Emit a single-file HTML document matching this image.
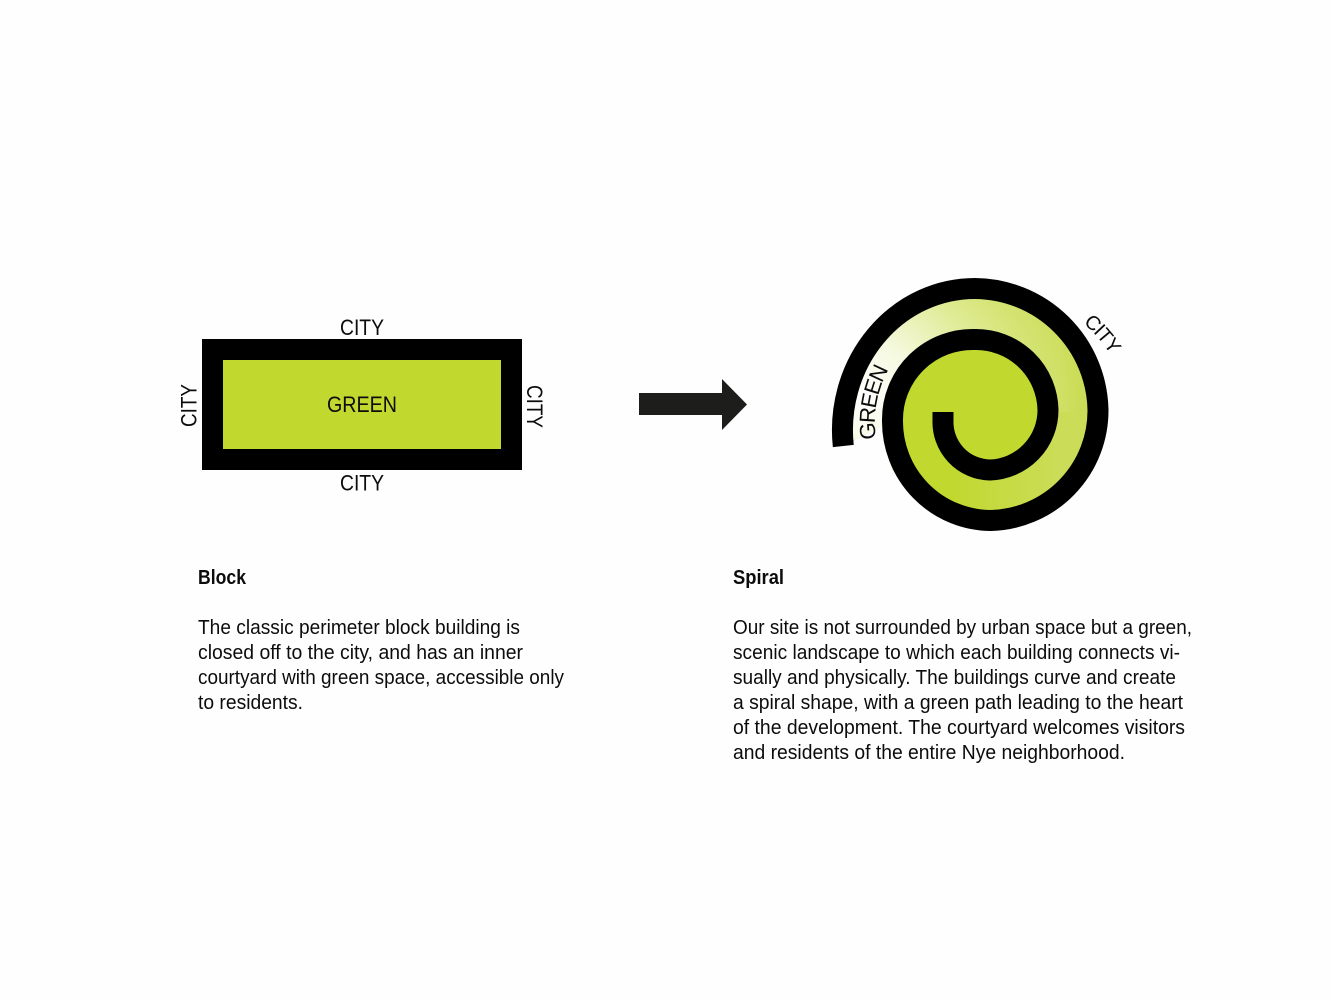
<!DOCTYPE html>
<html><head><meta charset="utf-8"><title>Block to Spiral</title>
<style>html,body{margin:0;padding:0;background:#fefefe}svg{display:block}
text{font-family:"Liberation Sans",sans-serif;fill:#0c0c0c}
.b{font-size:20px}.h{font-size:20px;font-weight:bold}.l{font-size:22px}</style></head>
<body>
<svg width="1333" height="1000" viewBox="0 0 1333 1000" xmlns="http://www.w3.org/2000/svg">
<defs>
<linearGradient id="base" gradientUnits="userSpaceOnUse" x1="950" y1="0" x2="1060" y2="0"><stop offset="0" stop-color="#c1d82f"/><stop offset="1" stop-color="#cbdd58"/></linearGradient>
<radialGradient id="glow" gradientUnits="userSpaceOnUse" cx="862" cy="395" r="215"><stop offset="0" stop-color="#fff" stop-opacity="1"/><stop offset=".25" stop-color="#fff" stop-opacity=".85"/><stop offset=".6" stop-color="#fff" stop-opacity=".45"/><stop offset="1" stop-color="#fff" stop-opacity="0"/></radialGradient>
<clipPath id="top"><rect x="820" y="270" width="300" height="170"/></clipPath>
<path id="pc" d="M1083,323 A140,140 0 0 1 1125,385"/>
<path id="pg" d="M876,439 A110,110 0 0 1 896,358"/>
</defs>
<rect width="1333" height="1000" fill="#fefefe"/>
<rect x="202" y="339" width="320" height="131" fill="#000"/>
<rect x="223" y="360" width="278" height="89" fill="#c1d82f"/>
<text class="l" x="340" y="335" textLength="44" lengthAdjust="spacingAndGlyphs">CITY</text>
<text class="l" x="340" y="490.500" textLength="44" lengthAdjust="spacingAndGlyphs">CITY</text>
<text class="l" x="327" y="412" textLength="70" lengthAdjust="spacingAndGlyphs">GREEN</text>
<text class="l" transform="translate(196.500,427) rotate(-90)" textLength="43" lengthAdjust="spacingAndGlyphs">CITY</text>
<text class="l" transform="translate(527,385) rotate(90)" textLength="43" lengthAdjust="spacingAndGlyphs">CITY</text>
<polygon points="639,393 722,393 722,379 747,404.500 722,430 722,415 639,415" fill="#1d1d1b"/>
<path d="M843.300,446 A132.500,141.500 0 0 1 975,288.500 A124,124 0 0 1 1098,410 A110,110 0 0 1 991,520.500 A99,99 0 0 1 892.500,420 Z" fill="url(#base)"/>
<path d="M843.300,446 A132.500,141.500 0 0 1 975,288.500 A124,124 0 0 1 1098,410 L892.500,420 Z" fill="url(#glow)" clip-path="url(#top)"/>
<path d="M892.500,420 A80,80 0 0 1 975,339.500 A72,72 0 0 1 1048,410 A60,60 0 0 1 990,470 L892.500,470 Z" fill="#c1d82f"/>
<path d="M843.300,446 A132.500,141.500 0 0 1 975,288.500 A124,124 0 0 1 1098,410 A110,110 0 0 1 991,520.500 A99,99 0 0 1 892.500,420 A80,80 0 0 1 975,339.500 A72,72 0 0 1 1048,410 A60,60 0 0 1 990,470 A48,48 0 0 1 943,420 L943,412" fill="none" stroke="#000" stroke-width="21"/>
<text letter-spacing="-1" style="font-size:20px"><textPath href="#pc">CITY</textPath></text>
<text class="l" letter-spacing="-1.500"><textPath href="#pg">GREEN</textPath></text>
<text class="h" x="198" y="584" textLength="48" lengthAdjust="spacingAndGlyphs">Block</text>
<text class="b" x="198" y="634" textLength="322" lengthAdjust="spacingAndGlyphs">The classic perimeter block building is</text>
<text class="b" x="198" y="659" textLength="325" lengthAdjust="spacingAndGlyphs">closed off to the city, and has an inner</text>
<text class="b" x="198" y="684" textLength="366" lengthAdjust="spacingAndGlyphs">courtyard with green space, accessible only</text>
<text class="b" x="198" y="709" textLength="105" lengthAdjust="spacingAndGlyphs">to residents.</text>
<text class="h" x="733" y="584" textLength="51" lengthAdjust="spacingAndGlyphs">Spiral</text>
<text class="b" x="733" y="634" textLength="459" lengthAdjust="spacingAndGlyphs">Our site is not surrounded by urban space but a green,</text>
<text class="b" x="733" y="659" textLength="447" lengthAdjust="spacingAndGlyphs">scenic landscape to which each building connects vi-</text>
<text class="b" x="733" y="684" textLength="443" lengthAdjust="spacingAndGlyphs">sually and physically. The buildings curve and create</text>
<text class="b" x="733" y="709" textLength="450" lengthAdjust="spacingAndGlyphs">a spiral shape, with a green path leading to the heart</text>
<text class="b" x="733" y="734" textLength="452" lengthAdjust="spacingAndGlyphs">of the development. The courtyard welcomes visitors</text>
<text class="b" x="733" y="759" textLength="392" lengthAdjust="spacingAndGlyphs">and residents of the entire Nye neighborhood.</text>
</svg>
</body></html>
